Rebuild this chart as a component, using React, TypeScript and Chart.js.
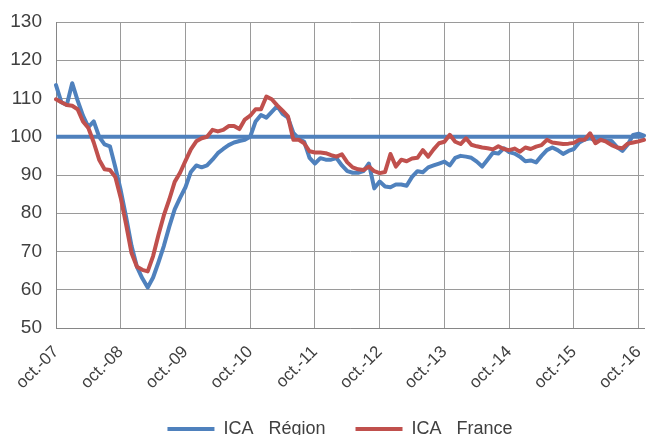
import React, { useEffect, useRef } from 'react';
import { Chart, registerables } from 'chart.js';

Chart.register(...registerables);

// Month names used to build the category labels (oct. 2007 -> nov. 2016)
const MONTHS = ['janv.', 'févr.', 'mars', 'avr.', 'mai', 'juin', 'juil.', 'août', 'sept.', 'oct.', 'nov.', 'déc.'];
const START_YEAR = 2007;
const START_MONTH = 9; // october
const N_POINTS = 110;

const categories: string[] = Array.from({ length: N_POINTS }, (_, i) => {
  const m = (START_MONTH + i) % 12;
  const y = START_YEAR + Math.floor((START_MONTH + i) / 12);
  return `${MONTHS[m]}-${String(y % 100).padStart(2, '0')}`;
});

const icaRegion = [
  113.5, 109, 108.3, 114, 109.5, 105.5, 102.5, 104, 100, 98,
  97.5, 92, 86, 79, 71.5, 66, 63, 60.6, 63.2, 67.2,
  71.5, 76.5, 81, 84, 86.8, 90.8, 92.5, 92, 92.5, 94,
  95.7, 96.8, 97.8, 98.5, 98.9, 99.2, 100, 104, 105.7, 105,
  106.5, 108, 106, 105, 101, 99.5, 98.7, 94.5, 93, 94.4,
  94, 94, 94.4, 92.5, 91, 90.6, 90.6, 91, 93, 86.5,
  88.3, 87, 86.8, 87.5, 87.5, 87.2, 89.5, 91, 90.7, 92,
  92.5, 93, 93.5, 92.5, 94.5, 95, 94.8, 94.5, 93.5, 92.2,
  94, 95.8, 95.6, 97, 96, 95.6, 94.8, 93.6, 93.8, 93.3,
  95, 96.5, 97.2, 96.5, 95.5, 96.3, 96.8, 98.5, 99.3, 99.6,
  99, 99.2, 99, 98.9, 97.3, 96.3, 98, 100.5, 100.8, 100.3,
];

const icaFrance = [
  109.8, 109, 108.3, 108.1, 107.2, 104, 102.3, 98.5, 94, 91.5,
  91.3, 89.5, 84, 77, 69.6, 66, 65.2, 64.8, 68.8, 74.4,
  79.5, 83.6, 88.2, 90.6, 93.7, 96.7, 98.8, 99.6, 100, 101.8,
  101.4, 101.8, 102.8, 102.8, 102, 104.5, 105.5, 107.2, 107.2, 110.5,
  109.8, 108.2, 106.8, 105.3, 99.2, 99.2, 98.3, 96.2, 95.9, 95.9,
  95.7, 95.2, 94.8, 95.4, 93.3, 92, 91.5, 91.3, 92.2, 91,
  90.5, 90.8, 95.5, 92.2, 94, 93.6, 94.3, 94.5, 96.5, 94.8,
  96.7, 98.3, 98.7, 100.5, 98.7, 98.1, 99.6, 97.9, 97.5, 97.2,
  97, 96.7, 97.5, 96.8, 96.5, 96.9, 96.1, 97.2, 96.8, 97.4,
  97.8, 99.2, 98.5, 98.3, 98.1, 98.2, 98.4, 99.2, 99.2, 100.9,
  98.3, 99.2, 98.7, 97.8, 97.2, 97, 98.2, 98.5, 98.8, 99.2,
];

const BASE_VALUE = 100;
const Y_MIN = 50;
const Y_MAX = 130;
const Y_STEP = 10;
const LABEL_EVERY = 12;

// trailing spaces on the last entry only nudge the centred legend row to the left
const SERIES_NAMES = ['ICA   Région', 'ICA   France    '];
const BLUE = '#4F81BD';
const RED = '#C0504D';
const GRID = '#9a9a9a';
const AXIS = '#868686';
const TEXT = '#404040';
const FONT = "'Liberation Sans', Arial, sans-serif";

export default function App() {
  const ref = useRef<HTMLCanvasElement | null>(null);

  useEffect(() => {
    document.body.style.margin = '0';
    const canvas = ref.current;
    if (!canvas) return;
    const chart = new Chart(canvas, {
      type: 'line',
      data: {
        labels: categories,
        datasets: [
          {
            label: SERIES_NAMES[0],
            data: icaRegion,
            borderColor: BLUE,
            backgroundColor: BLUE,
            borderWidth: 4,
            borderCapStyle: 'round',
            borderJoinStyle: 'round',
            pointRadius: 0,
            tension: 0,
            order: 2,
          },
          {
            label: SERIES_NAMES[1],
            data: icaFrance,
            borderColor: RED,
            backgroundColor: RED,
            borderWidth: 4,
            borderCapStyle: 'round',
            borderJoinStyle: 'round',
            pointRadius: 0,
            tension: 0,
            order: 0,
          },
          {
            label: 'base',
            data: categories.map(() => BASE_VALUE),
            borderColor: BLUE,
            backgroundColor: BLUE,
            borderWidth: 4,
            pointRadius: 0,
            tension: 0,
            order: 1,
          },
        ],
      },
      options: {
        responsive: false,
        animation: false,
        events: [],
        layout: { padding: { top: 22, left: 0, right: 2, bottom: 0 } },
        plugins: {
          tooltip: { enabled: false },
          legend: {
            position: 'bottom',
            fullSize: false,
            maxHeight: 45,
            labels: {
              usePointStyle: true,
              pointStyle: 'line',
              pointStyleWidth: 47,
              padding: 30,
              color: TEXT,
              font: { family: FONT, size: 18 },
              filter: (item) => item.datasetIndex !== 2,
              sort: (a, b) => a.datasetIndex - b.datasetIndex,
            },
          },
        },
        scales: {
          x: {
            type: 'category',
            offset: false,
            grid: {
              drawTicks: false,
              color: (ctx) => (ctx.index % LABEL_EVERY === 0 ? GRID : 'rgba(0,0,0,0)'),
              lineWidth: 1,
            },
            border: { display: true, color: AXIS, width: 1 },
            ticks: {
              autoSkip: false,
              maxRotation: 45,
              minRotation: 45,
              padding: 14,
              color: TEXT,
              font: { family: FONT, size: 17 },
              callback: (_v, index) => (index % LABEL_EVERY === 0 ? categories[index] : ''),
            },
            afterFit: (scale) => {
              scale.height = 62;
              scale.paddingRight = 0;
              scale.paddingLeft = 0;
            },
          },
          y: {
            min: Y_MIN,
            max: Y_MAX,
            grid: { drawTicks: false, color: GRID, lineWidth: 1 },
            border: { display: true, color: AXIS, width: 1 },
            ticks: {
              stepSize: Y_STEP,
              padding: 14,
              color: TEXT,
              font: { family: FONT, size: 19 },
            },
            afterFit: (scale) => {
              scale.width = 56;
              scale.paddingTop = 0;
              scale.paddingBottom = 0;
            },
          },
        },
      },
    });
    return () => chart.destroy();
  }, []);

  return (
    <div style={{ width: 646, height: 435, position: 'relative' }}>
      <canvas ref={ref} width={646} height={435} style={{ display: 'block' }} />
    </div>
  );
}
